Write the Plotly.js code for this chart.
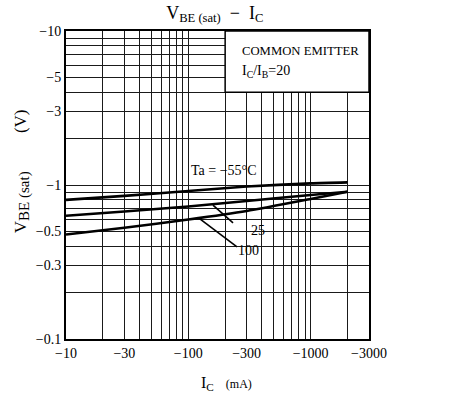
<!DOCTYPE html>
<html>
<head>
<meta charset="utf-8">
<script src="https://cdn.plot.ly/plotly-3.0.1.min.js"></script>
<style>html,body{margin:0;padding:0;background:#fff}#chart{width:457px;height:396px}</style>
</head>
<body>
<div id="chart"></div>
<script>
// Collector current (mA) and VBE(sat) (V)
const icValues = [-10, -30, -100, -300, -1000, -2000];
const vbeM55 = [-0.80, -0.85, -0.914, -0.978, -1.024, -1.04];
const vbe25 = [-0.632, -0.673, -0.725, -0.787, -0.861, -0.905];
const vbe100 = [-0.477, -0.528, -0.597, -0.678, -0.812, -0.905];
const seriesNames = ['Ta = −55°C', '25', '100'];

// Axis ticks (labels)
const xTickVals = [-10, -30, -100, -300, -1000, -3000];
const xTickText = ['−10', '−30', '−100', '−300', '−1000', '−3000'];
const yTickVals = [-0.1, -0.3, -0.5, -1, -3, -5, -10];
const yTickText = ['−0.1', '−0.3', '−0.5', '−1', '−3', '−5', '−10'];

const FONT = '"Liberation Serif", "DejaVu Serif", serif';
const mag = a => a.map(v => Math.abs(v));

// grid at 1..9 x each decade (minor grid)
function gridVals(lo, hi) {
  const out = [];
  for (let d = lo; d < hi; d++) for (let m = 1; m <= 9; m++) out.push(m * Math.pow(10, d));
  out.push(Math.pow(10, hi));
  return out;
}
const xGrid = gridVals(1, 3).concat([2000, 3000]);
const yGrid = gridVals(-1, 1);

const lineStyle = {color: '#000', width: 2.6, shape: 'spline', smoothing: 0.6};
const traces = [vbeM55, vbe25, vbe100].map((s, i) => ({
  x: mag(icValues), y: mag(s), type: 'scatter', mode: 'lines',
  name: seriesNames[i], line: lineStyle, hoverinfo: 'skip'
}));

const axisCommon = {
  type: 'log', tickmode: 'array',
  showgrid: true, gridcolor: '#1a1a1a', gridwidth: 1,
  ticks: '', showline: true, linecolor: '#000', linewidth: 2, mirror: true,
  tickfont: {family: FONT, size: 14, color: '#000'}, zeroline: false
};

const layout = {
  width: 457, height: 396,
  margin: {l: 66, r: 88, t: 31, b: 57},
  paper_bgcolor: '#fff', plot_bgcolor: '#fff',
  showlegend: false,
  font: {family: FONT, color: '#000', size: 14},
  title: {text: 'V<sub>BE (sat)</sub>  −  I<sub>C</sub>', x: 0.47, xanchor: 'center', y: 0.985, yanchor: 'top',
          font: {family: FONT, size: 18, color: '#000'}},
  xaxis: Object.assign({}, axisCommon, {
    range: [1, Math.log10(3000)],
    tickvals: mag(xTickVals), ticktext: xTickText,
    minor: {tickmode: 'array', tickvals: xGrid, showgrid: true, gridcolor: '#1a1a1a', gridwidth: 1, ticks: ''}
  }),
  yaxis: Object.assign({}, axisCommon, {
    range: [-1, 1],
    tickvals: mag(yTickVals), ticktext: yTickText,
    minor: {tickmode: 'array', tickvals: yGrid, showgrid: true, gridcolor: '#1a1a1a', gridwidth: 1, ticks: ''}
  }),
  shapes: [
    {type: 'rect', xref: 'x', yref: 'y', x0: 200, x1: 3000, y0: 4, y1: 10,
     fillcolor: '#fff', line: {color: '#000', width: 1.5}, layer: 'above'},
    {type: 'line', xref: 'x', yref: 'y', x0: 159, y0: 0.741, x1: 232, y1: 0.567,
     line: {color: '#000', width: 1.6}},
    {type: 'line', xref: 'x', yref: 'y', x0: 122, y0: 0.610, x1: 250, y1: 0.396,
     line: {color: '#000', width: 1.6}}
  ],
  annotations: [
    {xref: 'x', yref: 'y', x: Math.log10(196), y: Math.log10(1.25), text: seriesNames[0], showarrow: false,
     font: {family: FONT, size: 14}, xanchor: 'center', yanchor: 'middle'},
    {xref: 'x', yref: 'y', x: Math.log10(371), y: Math.log10(0.51), text: seriesNames[1], showarrow: false,
     font: {family: FONT, size: 14}, xanchor: 'center', yanchor: 'middle'},
    {xref: 'x', yref: 'y', x: Math.log10(313), y: Math.log10(0.378), text: seriesNames[2], showarrow: false,
     font: {family: FONT, size: 14}, xanchor: 'center', yanchor: 'middle'},
    {xref: 'x', yref: 'y', x: Math.log10(265), y: Math.log10(7.41), text: 'COMMON EMITTER', showarrow: false,
     font: {family: FONT, size: 12.7}, xanchor: 'left', yanchor: 'middle'},
    {xref: 'x', yref: 'y', x: Math.log10(265), y: Math.log10(5.42), text: 'I<sub>C</sub>/I<sub>B</sub>=20', showarrow: false,
     font: {family: FONT, size: 14}, xanchor: 'left', yanchor: 'middle'},
    {xref: 'paper', yref: 'paper', x: -0.145, y: 0.545,
     text: 'V<sub><span style="font-size:15px">BE (sat)</span></sub>\u00a0\u00a0\u00a0\u00a0\u00a0\u00a0\u00a0\u00a0\u00a0(V)', showarrow: false,
     textangle: -90, font: {family: FONT, size: 17}, xanchor: 'center', yanchor: 'middle'},
    {xref: 'paper', yref: 'paper', x: 0.53, y: -0.143, text: 'I<sub>C</sub>\u00a0\u00a0\u00a0<span style="font-size:12px">(mA)</span>', showarrow: false,
     font: {family: FONT, size: 16}, xanchor: 'center', yanchor: 'middle'}
  ]
};

Plotly.newPlot('chart', traces, layout, {staticPlot: true, displayModeBar: false});
</script>
</body>
</html>
